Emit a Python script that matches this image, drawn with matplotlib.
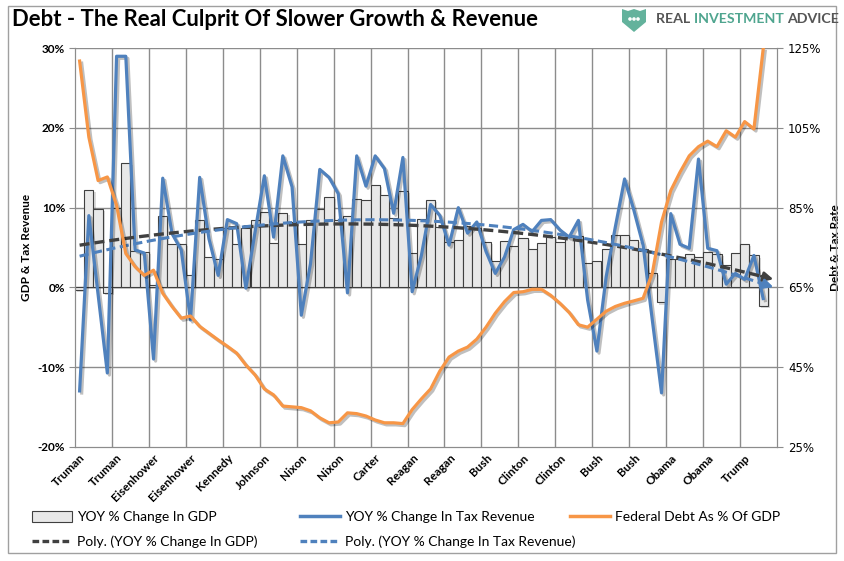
import numpy as np
import matplotlib
matplotlib.use("Agg")
import matplotlib.pyplot as plt
from matplotlib.patches import Polygon, Patch, Circle
from matplotlib.lines import Line2D
import matplotlib.patheffects as pe

plt.rcParams['font.family'] = ['Lato', 'DejaVu Sans']

# ---------------------------------------------------------
# === Data ===
# ---------------------------------------------------------
president_labels = ['Truman', 'Truman', 'Eisenhower', 'Eisenhower', 'Kennedy', 'Johnson',
                    'Nixon', 'Nixon', 'Carter', 'Reagan', 'Reagan', 'Bush', 'Clinton',
                    'Clinton', 'Bush', 'Bush', 'Obama', 'Obama', 'Trump']

gdp_yoy = [-0.3, 12.2, 9.8, -0.75, 10.0, 15.6, 4.6, 4.4, 0.3, 8.9,
           5.5, 5.4, 1.5, 8.4, 3.8, 3.6, 7.4, 5.5, 7.4, 8.4,
           9.5, 5.6, 9.3, 8.2, 5.4, 8.5, 9.8, 11.4, 8.4, 9.0,
           11.1, 11.0, 12.9, 11.6, 8.75, 12.1, 4.25, 8.6, 11.0, 7.6,
           5.7, 6.0, 7.7, 7.5, 5.7, 3.3, 5.8, 5.2, 6.25, 4.75,
           5.6, 6.3, 5.7, 6.3, 6.5, 3.1, 3.3, 4.8, 6.6, 6.6,
           5.9, 4.8, 1.85, -1.9, 3.6, 3.5, 4.15, 3.8, 4.4, 4.2,
           2.8, 4.3, 5.4, 4.0, -2.3]

tax_yoy = [-13.0, 9.0, -0.9, -10.75, 29.0, 29.0, 4.7, 4.3, -9.0, 13.7,
           6.75, 4.7, -4.1, 13.8, 6.1, 1.5, 8.5, 8.0, -0.1, 7.0,
           14.0, 6.3, 16.5, 12.6, -3.5, 3.0, 14.8, 13.8, 11.75, -0.7,
           16.5, 12.7, 16.5, 14.9, 9.3, 16.3, -0.55, 4.0, 10.4, 9.0,
           5.3, 10.0, 6.8, 8.2, 4.5, 1.75, 3.8, 7.25, 7.9, 7.0,
           8.4, 8.5, 7.2, 6.3, 8.4, -1.6, -8.0, 1.3, 7.6, 13.6,
           9.7, 5.3, -4.1, -13.25, 9.25, 5.4, 4.9, 16.1, 4.9, 4.6,
           0.4, 1.75, 1.0, 4.0, -1.4]

debt_gdp = [121.8, 102.7, 91.8, 92.7, 85.6, 73.5, 70.2, 68.0, 69.3, 63.5,
            60.2, 57.25, 57.8, 55.2, 53.5, 51.8, 50.2, 48.5, 45.5, 43.0,
            39.5, 38.0, 35.2, 35.0, 34.8, 34.0, 32.25, 31.0, 31.2, 33.5,
            33.3, 32.7, 31.7, 31.0, 31.0, 30.8, 34.3, 37.0, 39.5, 44.0,
            47.5, 49.0, 50.0, 52.0, 55.0, 58.5, 61.4, 63.7, 63.9, 64.5,
            64.5, 63.0, 61.0, 58.7, 55.6, 55.0, 57.0, 59.0, 60.2, 61.0,
            61.6, 62.25, 68.5, 81.4, 89.3, 93.9, 98.0, 100.3, 101.7, 100.3,
            104.3, 102.7, 106.6, 104.75, 124.75]

N_CATS = 76  # one empty slot at the end of the category axis

# ---------------------------------------------------------
# === Colours ===
# ---------------------------------------------------------
BLUE = '#4F81BD'
ORANGE = '#F79646'
DARK = '#404040'
GRID = '#8c8c8c'
BAR = '#e8e8e8'

x = np.arange(len(gdp_yoy))

# polynomial trendlines (Excel-style, forecast forward one period)
x_tr = np.linspace(0, N_CATS - 0.6, 200)
gdp_fit = np.polyval(np.polyfit(x, gdp_yoy, 2), x_tr)
tax_fit = np.polyval(np.polyfit(x, tax_yoy, 2), x_tr)

# ---------------------------------------------------------
# === Figure ===
# ---------------------------------------------------------
W, H = 844, 561
fig = plt.figure(figsize=(W / 100, H / 100), dpi=100)
ax = fig.add_axes([75 / W, 1 - 446.7 / H, (777 - 75) / W, (446.7 - 48.3) / H])
ax2 = ax.twinx()

shadow = [pe.SimpleLineShadow(offset=(1.5, -1.5), shadow_color='k', alpha=0.25), pe.Normal()]

ax.bar(x, gdp_yoy, width=1.0, color=BAR, edgecolor=DARK, linewidth=0.8, zorder=2,
       path_effects=[pe.SimplePatchShadow(offset=(1.5, -1.5), alpha=0.2), pe.Normal()])
ax.plot(x, tax_yoy, color=BLUE, lw=2.3, zorder=4, path_effects=shadow)

ax.plot(x_tr[:-3], gdp_fit[:-3], color=DARK, lw=2.4, ls=(0, (3, 1.5)), zorder=5)
ax.plot(x_tr[:-3], tax_fit[:-3], color=BLUE, lw=2.2, ls=(0, (3, 1.5)), zorder=5)
ax.annotate('', xy=(x_tr[-1], gdp_fit[-1]), xytext=(x_tr[-6], gdp_fit[-6]),
            arrowprops=dict(arrowstyle='-|>', color=DARK, lw=2, mutation_scale=14), zorder=6)
ax.annotate('', xy=(x_tr[-1], tax_fit[-1]), xytext=(x_tr[-6], tax_fit[-6]),
            arrowprops=dict(arrowstyle='-|>', color=BLUE, lw=2, mutation_scale=14), zorder=6)

ax2.plot(x, debt_gdp, color=ORANGE, lw=2.3, path_effects=shadow)

# axes formatting
ax.set_xlim(-0.5, N_CATS - 0.5)
ax.set_ylim(-20, 30)
ax2.set_ylim(25, 125)
ax.set_yticks(np.arange(-20, 31, 10))
ax.set_yticklabels([f'{v}%' for v in range(-20, 31, 10)], fontsize=8.5, fontweight='bold')
ax2.set_yticks(np.arange(25, 126, 20))
ax2.set_yticklabels([f'{v}%' for v in range(25, 126, 20)], fontsize=8.5, family='DejaVu Sans')

ax.set_xticks(np.arange(0, N_CATS - 3, 4))
ax.set_xticklabels(president_labels, rotation=45, ha='right', rotation_mode='anchor',
                   fontsize=8.5, fontweight='bold')
ax.tick_params(axis='x', length=0, pad=4)
ax.tick_params(axis='y', length=4, color=GRID, pad=3)
ax2.tick_params(axis='y', length=4, color=GRID, pad=4)

for v in np.arange(-10, 31, 10):
    ax.axhline(v, color=GRID, lw=1, zorder=1)
for k in range(1, 19):
    ax.axvline(-0.5 + 4 * k, color=GRID, lw=1, zorder=1)
for a in (ax, ax2):
    for s in a.spines.values():
        s.set_color(GRID)
    a.spines['top'].set_visible(False)

ax.set_ylabel('GDP & Tax Revenue', fontsize=8.5, fontweight='bold', labelpad=4)
ax2.set_ylabel('Debt & Tax Rate', fontsize=8.5, fontweight='bold', labelpad=6)

# title
fig.text(12 / W, 1 - 19 / H, 'Debt - The Real Culprit Of Slower Growth & Revenue',
         fontsize=15.9, fontweight='bold', va='center', ha='left')

# logo: shield + three-colour wordmark
shield = Polygon([(622, H - 9), (628, H - 11), (634, H - 9), (640, H - 11), (646, H - 9),
                  (646, H - 22), (634, H - 32), (622, H - 22)],
                 closed=True, transform=None, facecolor='#63b29c', edgecolor='none')
fig.patches.append(shield)
for dx in (-4, 0, 4):
    fig.patches.append(Circle((634 + dx, H - 19), 1.1, transform=None, color='white'))

renderer = fig.canvas.get_renderer()
x_pos = 656
for word, col in [('REAL ', '#555555'), ('INVESTMENT ', '#4fa58f'), ('ADVICE', '#555555')]:
    t = fig.text(x_pos / W, 1 - 19 / H, word, fontsize=10.2, fontweight='bold', color=col,
                 va='center', ha='left')
    x_pos += t.get_window_extent(renderer).width

# legend, laid out as three Excel-like columns
col_specs = [
    (28, [Patch(facecolor=BAR, edgecolor=DARK, lw=0.8, label='YOY % Change In GDP'),
          Line2D([], [], color=DARK, lw=2.4, ls=(0, (2, 1)), label='Poly. (YOY % Change In GDP)')]),
    (296, [Line2D([], [], color=BLUE, lw=2.5, label='YOY % Change In Tax Revenue'),
           Line2D([], [], color=BLUE, lw=2.4, ls=(0, (2, 1)), label='Poly. (YOY % Change In Tax Revenue)')]),
    (566, [Line2D([], [], color=ORANGE, lw=2.5, label='Federal Debt As % Of GDP')]),
]
for x0, hs in col_specs:
    leg = fig.legend(handles=hs, loc='upper left', bbox_to_anchor=(x0 / W, 1 - 507 / H),
                     frameon=False, fontsize=10, handlelength=2.9, handleheight=0.8,
                     labelspacing=0.85, handletextpad=0.3, borderaxespad=0, borderpad=0.3)

# outer border
fig.patches.append(plt.Rectangle((8, 8), W - 16, H - 14, transform=None, fill=False,
                                 edgecolor='#a0a0a0', lw=1))

fig.savefig('out.png', dpi=100)
